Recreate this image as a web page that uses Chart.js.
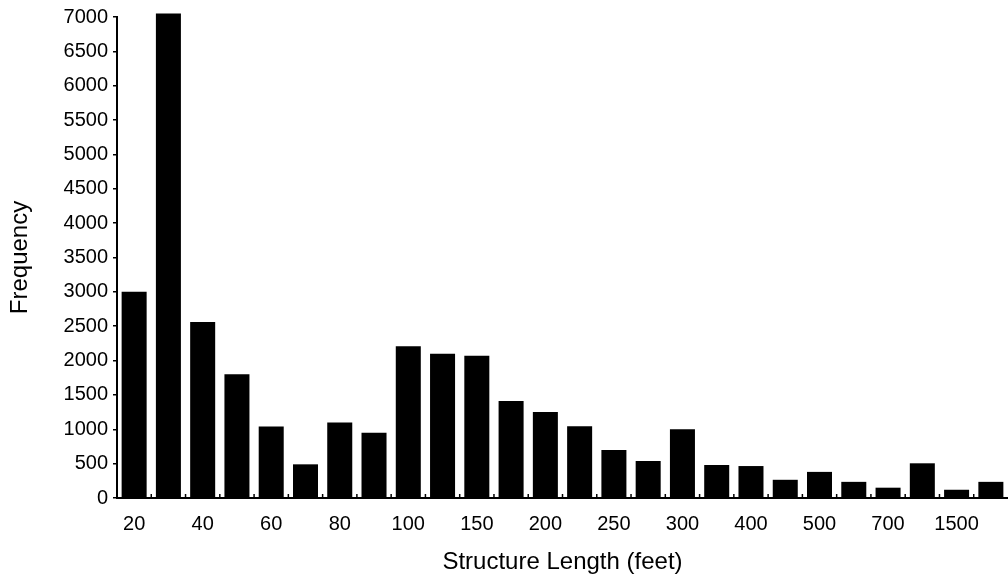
<!DOCTYPE html>
<html>
<head>
<meta charset="utf-8">
<script src="https://cdn.jsdelivr.net/npm/chart.js@4.4.1/dist/chart.umd.min.js"></script>
<style>
  html, body { margin: 0; padding: 0; background: #fff; }
  #wrap { width: 1008px; height: 584px; position: relative; }
</style>
</head>
<body>
<div id="wrap"><canvas id="c" width="1008" height="584"></canvas></div>
<script>
// Category tick labels (every other bin labelled, as in the original)
const categories = ['20','','40','','60','','80','','100','','150','','200','','250','','300','','400','','500','','700','','1500',''];
// Frequency per structure-length bin
const frequency = [3000, 7050, 2560, 1800, 1040, 490, 1100, 950, 2210, 2100, 2070, 1410, 1250, 1045, 700, 540, 1000, 480, 465, 265, 380, 235, 150, 505, 120, 235];
// Y axis range/step
const yMin = 0, yMax = 7000, yStep = 500;

const FONT = "'Liberation Sans', Arial, Helvetica, sans-serif";

const gapTicks = {
  id: 'gapTicks',
  afterDatasetsDraw(chart) {
    const x = chart.scales.x, y = chart.scales.y;
    const ctx = chart.ctx;
    const base = y.getPixelForValue(0);
    ctx.save();
    ctx.strokeStyle = '#000';
    ctx.lineWidth = 1.5;
    for (let i = 1; i < categories.length; i++) {
      const px = (x.getPixelForValue(i - 1) + x.getPixelForValue(i)) / 2;
      ctx.beginPath();
      ctx.moveTo(px, base);
      ctx.lineTo(px, base - 4);
      ctx.stroke();
    }
    ctx.restore();
  }
};

new Chart(document.getElementById('c'), {
  type: 'bar',
  data: {
    labels: categories,
    datasets: [{
      data: frequency,
      backgroundColor: '#000',
      borderWidth: 0,
      barPercentage: 0.73,
      categoryPercentage: 1.0,
      clip: false
    }]
  },
  options: {
    responsive: false,
    animation: false,
    devicePixelRatio: 1,
    layout: { padding: { top: 14, right: 0, bottom: 0, left: 0 } },
    plugins: { legend: { display: false }, tooltip: { enabled: false } },
    scales: {
      x: {
        grid: { display: false },
        border: { display: true, color: '#000', width: 2 },
        ticks: {
          autoSkip: false, maxRotation: 0, minRotation: 0,
          color: '#000', padding: 6,
          font: { family: FONT, size: 20 }
        },
        title: {
          display: true, text: 'Structure Length (feet)', color: '#000',
          font: { family: FONT, size: 24 }, padding: { top: 0, bottom: 7 }
        },
        afterFit(scale) { scale.height = 86; }
      },
      y: {
        min: yMin, max: yMax,
        grid: { drawOnChartArea: false, drawTicks: true, tickLength: 4, color: '#000', lineWidth: 1.5 },
        border: { display: true, color: '#000', width: 2 },
        ticks: {
          stepSize: yStep, color: '#000', padding: 5,
          font: { family: FONT, size: 20 },
          callback: (v) => String(v)
        },
        title: {
          display: true, text: 'Frequency', color: '#000',
          font: { family: FONT, size: 24 }, padding: { top: 6, bottom: 0 }
        },
        afterFit(scale) { scale.width = 117; }
      }
    }
  },
  plugins: [gapTicks]
});
</script>
</body>
</html>
